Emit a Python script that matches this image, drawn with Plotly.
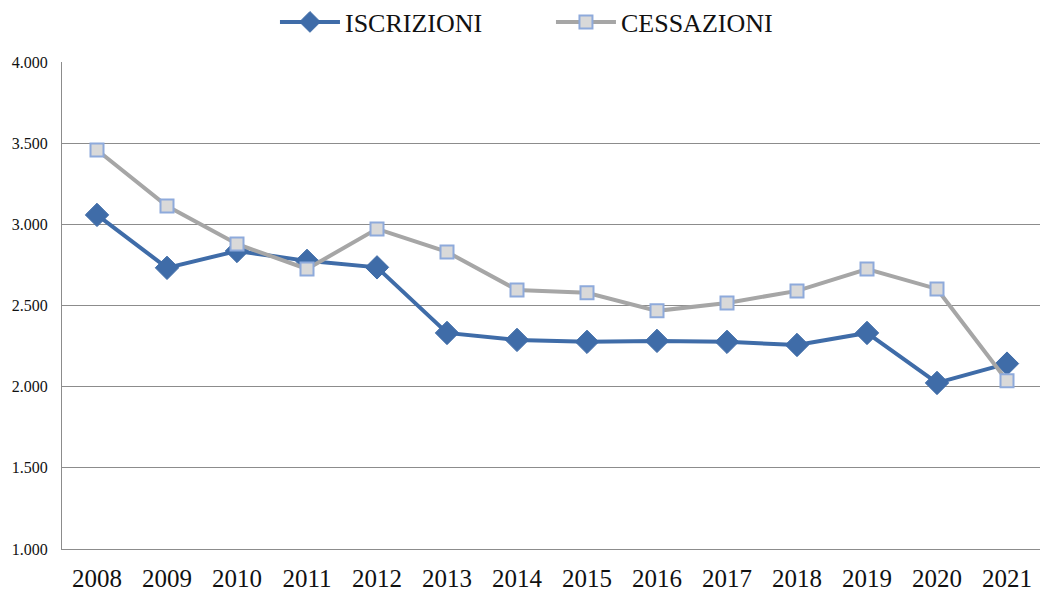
import plotly.graph_objects as go

years = ["2008", "2009", "2010", "2011", "2012", "2013", "2014",
         "2015", "2016", "2017", "2018", "2019", "2020", "2021"]
iscrizioni = [3058, 2732, 2836, 2775, 2735, 2331, 2288, 2276, 2282, 2276, 2257, 2331, 2023, 2142]
cessazioni = [3458, 3113, 2879, 2725, 2972, 2830, 2596, 2578, 2467, 2516, 2590, 2725, 2602, 2036]
y_ticks = [1000, 1500, 2000, 2500, 3000, 3500, 4000]
y_labels = ["1.000", "1.500", "2.000", "2.500", "3.000", "3.500", "4.000"]

fig = go.Figure()
fig.add_trace(go.Scatter(
    x=years, y=iscrizioni, name="ISCRIZIONI", mode="lines+markers",
    line=dict(color="#3F6CA8", width=4),
    marker=dict(symbol="diamond", size=18, color="#3F6CA8",
                line=dict(color="#3F6CA8", width=1)),
))
fig.add_trace(go.Scatter(
    x=years, y=cessazioni, name="CESSAZIONI", mode="lines+markers",
    line=dict(color="#A6A6A6", width=4),
    marker=dict(symbol="square", size=13, color="#D9D9D9",
                line=dict(color="#8EAADB", width=2)),
))

fig.update_layout(
    width=1040, height=584,
    margin=dict(l=54, r=6, t=54, b=43, autoexpand=False),
    paper_bgcolor="white", plot_bgcolor="white",
    font=dict(family="Liberation Serif", color="#111111"),
    showlegend=True,
    legend=dict(orientation="h", xref="container", yref="container",
                x=0.2567, xanchor="left", y=0.976, yanchor="middle",
                font=dict(size=26, family="Liberation Serif"),
                itemwidth=60, entrywidthmode="pixels", entrywidth=201),
    xaxis=dict(
        type="category", showgrid=False, showline=True, linecolor="#8C8C8C", linewidth=1,
        ticks="", tickfont=dict(size=25, family="Liberation Serif"),
        range=[-0.5, 13.5], automargin=False, ticklabelstandoff=7,
    ),
    yaxis=dict(
        range=[1000, 4000], tickvals=y_ticks, ticktext=y_labels,
        showgrid=True, gridcolor="#8C8C8C", gridwidth=1,
        showline=True, linecolor="#8C8C8C", linewidth=1,
        zeroline=False, ticks="", ticklen=0, automargin=False,
        ticklabelstandoff=10,
        tickfont=dict(size=16, family="Liberation Serif"),
    ),
)

fig.write_html("out.html")
